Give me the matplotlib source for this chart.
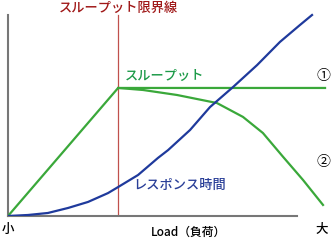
import numpy as np
import matplotlib
matplotlib.use("Agg")
import matplotlib.pyplot as plt

plt.rcParams['font.family'] = ['Noto Sans CJK JP', 'DejaVu Sans']

# load (x) vs value (y); axis end = 10
limit_load = 3.81

thru_flat_x = [0.0, 3.81, 10.97]
thru_flat_y = [0.0, 6.37, 6.37]

thru_drop_x = [3.81, 4.67, 5.85, 7.23, 8.13, 8.82, 9.52, 10.21, 10.90]
thru_drop_y = [6.37, 6.27, 6.02, 5.62, 4.93, 4.13, 2.94, 1.79, 0.55]

resp_x = [0.0, 0.69, 1.38, 2.08, 2.77, 3.46, 3.81, 4.50, 5.19, 5.54,
          6.30, 6.99, 7.79, 8.62, 9.41, 10.10, 10.52]
resp_y = [0.0, 0.05, 0.15, 0.40, 0.70, 1.14, 1.44, 2.04, 2.89, 3.28,
          4.28, 5.42, 6.42, 7.51, 8.66, 9.50, 10.0]

green = '#3aa83a'
blue = '#1f3a9c'

fig = plt.figure(figsize=(3.31, 2.40), dpi=100)
ax = fig.add_axes([8/331, 24/240, 323/331, 216/240])
ax.set_xlim(0, 323/28.9)
ax.set_ylim(0, 216/20.1)

for s in ['top', 'right']:
    ax.spines[s].set_visible(False)
ax.spines['left'].set_bounds(0, 10)
ax.spines['bottom'].set_bounds(0, 10)
for s in ['left', 'bottom']:
    ax.spines[s].set_color('#777777')
    ax.spines[s].set_linewidth(1.5)
ax.set_xticks([])
ax.set_yticks([])
ax.patch.set_visible(False)

ax.plot([limit_load, limit_load], [0, 10], color='#c0504d', lw=0.9, zorder=1)
ax.plot(thru_drop_x, thru_drop_y, color=green, lw=1.6, zorder=2,
        solid_joinstyle='round')
ax.plot(thru_flat_x, thru_flat_y, color=green, lw=1.6, zorder=3)
ax.plot(resp_x, resp_y, color=blue, lw=1.6, zorder=4, solid_joinstyle='round')

fig.text(118/331, 1 - 8/240, 'スループット限界線', color='#a01818', fontsize=9.5,
         ha='center', va='center', fontweight='medium')
fig.text(125/331, 1 - 76/240, 'スループット', color='#1c9a48', fontsize=9.5,
         ha='left', va='center', fontweight='medium')
fig.text(133/331, 1 - 185/240, 'レスポンス時間', color='#2a3f98', fontsize=9.5,
         ha='left', va='center', fontweight='medium')
fig.text(323/331, 1 - 76/240, '①', color='black', fontsize=10, ha='center', va='center')
fig.text(323/331, 1 - 162/240, '②', color='black', fontsize=10, ha='center', va='center')
fig.text(8/331, 1 - 229/240, '小', color='black', fontsize=9, ha='center', va='center',
         fontweight='medium')
fig.text(322/331, 1 - 229/240, '大', color='black', fontsize=9, ha='center', va='center',
         fontweight='medium')
fig.text(188/331, 1 - 232/240, 'Load（負荷）', color='black', fontsize=8.5,
         ha='center', va='center', fontweight='medium')

fig.savefig('out.png', dpi=100)
